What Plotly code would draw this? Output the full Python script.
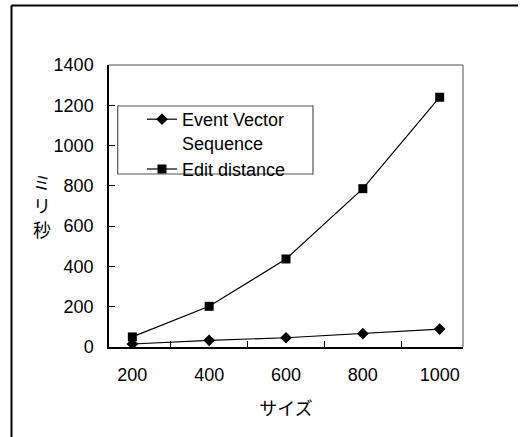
import plotly.graph_objects as go

sizes = ["200", "400", "600", "800", "1000"]
event_vector = [15, 33, 46, 66, 89]
edit_distance = [50, 202, 437, 786, 1240]
y_ticks = [0, 200, 400, 600, 800, 1000, 1200, 1400]

W, H = 528, 437
L, R, T, B = 109, 463, 65, 347
PW, PH = R - L, B - T

def px(x):
    return (x - L) / PW

def py(y):
    return (B - y) / PH

FONT = "Liberation Sans, Noto Sans CJK JP, sans-serif"
FS = 18

fig = go.Figure()
fig.add_trace(go.Scatter(
    x=sizes, y=event_vector, mode="lines+markers",
    name="Event Vector<br>Sequence",
    line=dict(color="black", width=1.2),
    marker=dict(symbol="diamond", size=9, color="black"),
))
fig.add_trace(go.Scatter(
    x=sizes, y=edit_distance, mode="lines+markers",
    name="Edit distance",
    line=dict(color="black", width=1.2),
    marker=dict(symbol="square", size=9, color="black"),
))

shapes = [
    dict(type="line", xref="paper", yref="paper", x0=0, x1=1, y0=1, y1=1,
         line=dict(color="#888888", width=1.5)),
    dict(type="line", xref="paper", yref="paper", x0=1, x1=1, y0=0, y1=1,
         line=dict(color="#888888", width=1.5)),
    dict(type="line", xref="paper", yref="paper", x0=px(11.5), x1=px(518),
         y0=py(5.5), y1=py(5.5), line=dict(color="black", width=2)),
    dict(type="line", xref="paper", yref="paper", x0=px(11.5), x1=px(11.5),
         y0=py(5.5), y1=py(445), line=dict(color="black", width=2)),
    dict(type="rect", xref="paper", yref="paper", x0=px(117.7), x1=px(313),
         y0=py(174), y1=py(106), line=dict(color="#555555", width=1.2),
         fillcolor="white", layer="below"),
]

fig.update_layout(
    width=W, height=H,
    margin=dict(l=L, r=W - R, t=T, b=H - B),
    paper_bgcolor="white", plot_bgcolor="white",
    font=dict(family=FONT, size=FS, color="black"),
    showlegend=True,
    legend=dict(
        x=px(142), y=py(101), xanchor="left", yanchor="top",
        bgcolor="rgba(0,0,0,0)", borderwidth=0,
        font=dict(family=FONT, size=FS, color="black"),
        valign="top", tracegroupgap=0,
    ),
    xaxis=dict(
        type="category", tickson="boundaries",
        showline=True, linecolor="black", linewidth=1.5,
        ticks="inside", ticklen=6, tickcolor="black", tickwidth=1,
        showgrid=False, zeroline=False,
        ticklabelstandoff=11,
        title=dict(text="サイズ", font=dict(family=FONT, size=FS), standoff=18),
    ),
    yaxis=dict(
        range=[0, 1400], tickvals=y_ticks,
        showline=True, linecolor="black", linewidth=1.5,
        ticks="inside", ticklen=6, tickcolor="black", tickwidth=1,
        showgrid=False, zeroline=False,
        ticklabelstandoff=10,
    ),
    shapes=shapes,
    annotations=[dict(
        text="ミ<br>リ<br>秒", xref="paper", yref="paper",
        x=px(42), y=py(207), xanchor="center", yanchor="middle",
        showarrow=False, font=dict(family=FONT, size=FS, color="black"),
    )],
)

fig.write_html("out.html")
